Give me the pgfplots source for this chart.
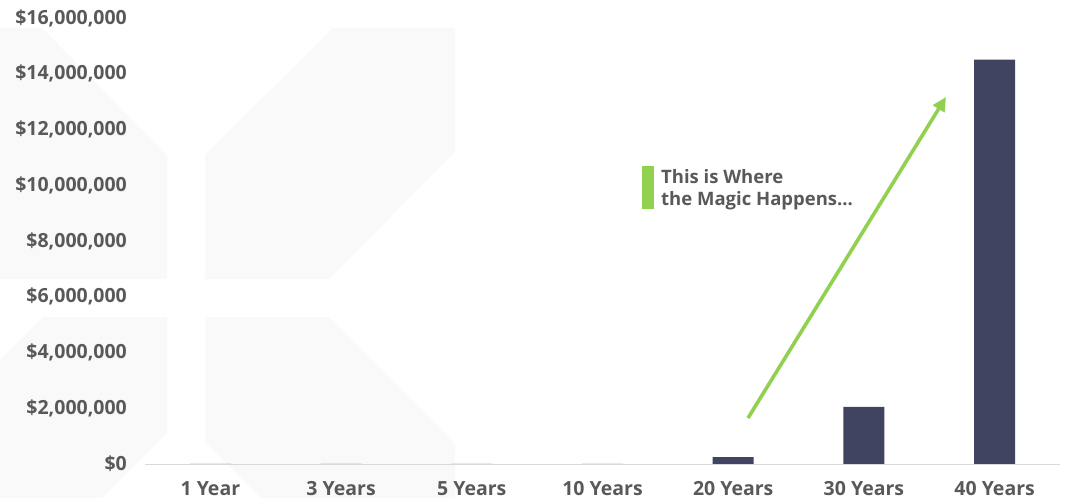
\documentclass[border=0pt]{standalone}
\usepackage{fontspec}
\setmainfont{Open Sans}
\usepackage{pgfplots}
\pgfplotsset{compat=1.18}
\usetikzlibrary{arrows.meta}
\definecolor{wm}{RGB}{249,249,249}
\definecolor{barnavy}{RGB}{64,68,96}
\definecolor{labelgray}{RGB}{89,89,89}
\definecolor{linegray}{RGB}{217,217,217}
\definecolor{magicgreen}{RGB}{146,208,80}
\pgfplotstableread{
x value
0 300
1 1000
2 2000
3 5000
4 250000
5 2050000
6 14510000
}\growth
\begin{document}
\begin{tikzpicture}[x=1pt,y=1pt]
\path[use as bounding box] (0pt,0pt) rectangle (1065pt,-498pt);
% faint watermark
\fill[wm] (0,-28) -- (42,-28) -- (167,-155) -- (167,-279) -- (0,-279) -- cycle;
\fill[wm] (0,-360) -- (43,-317) -- (167,-317) -- (167,-433) -- (102,-498) -- (0,-498) -- cycle;
\fill[wm] (205,-155) -- (333,-28) -- (455,-28) -- (455,-152) -- (329,-279) -- (205,-279) -- cycle;
\fill[wm] (205,-317) -- (329,-317) -- (455,-443) -- (455,-498) -- (261,-498) -- (205,-442) -- cycle;
\begin{axis}[
  at={(145pt,-464pt)}, anchor=south west,
  scale only axis, width=915pt, height=446pt,
  xmin=-0.5, xmax=6.5, ymin=0, ymax=16000000,
  scaled y ticks=false,
  axis on top,
  axis lines*=left,
  x axis line style={draw=linegray, line width=1pt},
  y axis line style={draw=none},
  major tick length=0pt, tick style={draw=none},
  xtick=data,
  xticklabels={1 Year,3 Years,5 Years,10 Years,20 Years,30 Years,40 Years},
  ytick={0,2000000,4000000,6000000,8000000,10000000,12000000,14000000,16000000},
  yticklabels={{\$0},{\$2,000,000},{\$4,000,000},{\$6,000,000},{\$8,000,000},{\$10,000,000},{\$12,000,000},{\$14,000,000},{\$16,000,000}},
  ticklabel style={font=\fontsize{19.5}{22}\selectfont\bfseries, text=labelgray, inner sep=0pt},
  yticklabel style={anchor=east, xshift=-18pt},
  xticklabel style={anchor=north, yshift=-17pt},
  ybar, bar width=41pt,
  clip=false,
]
\addplot[fill=barnavy, draw=none] table[x=x, y=value] {\growth};
\end{axis}
% annotation
\draw[magicgreen, line width=3.6pt, -{Triangle[length=14pt,width=13pt]}] (748,-418) -- (946,-97);
\fill[magicgreen] (642,-166) rectangle (654,-209);
\node[anchor=base west, inner sep=0pt, text=labelgray, font=\fontsize{18.5}{22}\selectfont\bfseries] at (661,-183) {This is Where};
\node[anchor=base west, inner sep=0pt, text=labelgray, font=\fontsize{18.5}{22}\selectfont\bfseries] at (661,-205) {the Magic Happens...};
\end{tikzpicture}
\end{document}
